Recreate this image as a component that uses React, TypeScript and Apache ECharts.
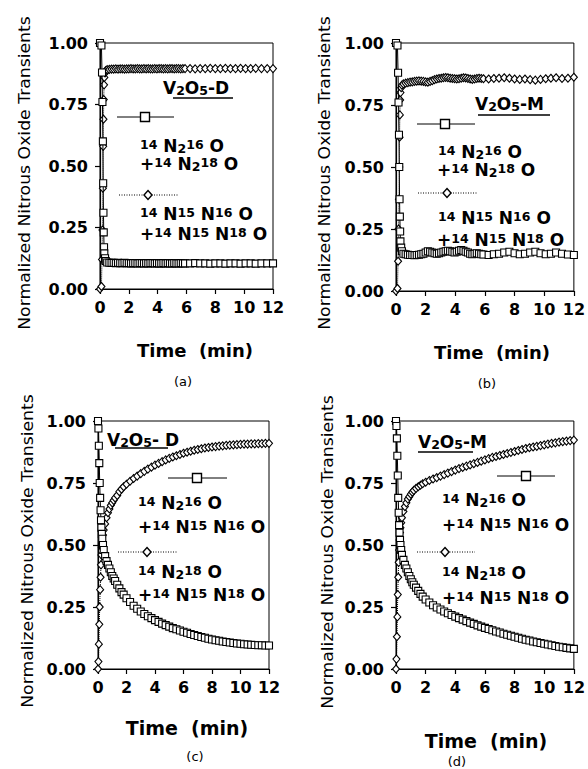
import React, { useEffect, useRef } from "react";
import * as echarts from "echarts";

// ---- data ----
const T_AB = [
  0, 0.1, 0.14, 0.17, 0.2, 0.22, 0.24, 0.26, 0.28, 0.3,
  0.35, 0.4, 0.5, 0.65, 0.8, 0.95, 1.1, 1.25, 1.4, 1.55,
  1.7, 1.85, 2.0, 2.15, 2.3, 2.45, 2.6, 2.75, 2.9, 3.05,
  3.2, 3.35, 3.5, 3.65, 3.8, 3.95, 4.1, 4.25, 4.4, 4.55,
  4.7, 4.85, 5.0, 5.15, 5.3, 5.45, 5.6, 5.75, 5.9, 6.25,
  6.6, 6.95, 7.3, 7.65, 8.0, 8.35, 8.7, 9.05, 9.4, 9.75,
  10.1, 10.45, 10.8, 11.2, 11.6, 12.0,
];
const A_SQ = [
  1.0, 0.99, 0.88, 0.76, 0.6, 0.43, 0.31, 0.23, 0.17, 0.145,
  0.125, 0.114, 0.108, 0.107, 0.106, 0.106, 0.105, 0.106, 0.105, 0.105,
  0.106, 0.105, 0.105, 0.104, 0.105, 0.105, 0.104, 0.105, 0.105, 0.104,
  0.105, 0.104, 0.105, 0.105, 0.104, 0.105, 0.104, 0.104, 0.105, 0.104,
  0.105, 0.104, 0.104, 0.105, 0.104, 0.104, 0.105, 0.104, 0.104, 0.104,
  0.105, 0.104, 0.104, 0.103, 0.104, 0.104, 0.103, 0.104, 0.104, 0.103,
  0.104, 0.104, 0.103, 0.104, 0.104, 0.104,
];
const A_DIA = [
  0.0, 0.01, 0.12, 0.24, 0.41, 0.58, 0.69, 0.77, 0.83, 0.86,
  0.878, 0.888, 0.892, 0.893, 0.894, 0.894, 0.895, 0.894, 0.895, 0.895,
  0.894, 0.895, 0.895, 0.896, 0.895, 0.895, 0.896, 0.895, 0.895, 0.896,
  0.895, 0.896, 0.895, 0.895, 0.896, 0.895, 0.896, 0.896, 0.895, 0.896,
  0.895, 0.896, 0.896, 0.895, 0.896, 0.896, 0.895, 0.896, 0.896, 0.896,
  0.895, 0.896, 0.896, 0.897, 0.896, 0.896, 0.897, 0.896, 0.896, 0.897,
  0.896, 0.896, 0.897, 0.896, 0.896, 0.896,
];
const B_SQ = [
  1.0, 0.99, 0.88, 0.76, 0.63, 0.5, 0.37, 0.3, 0.24, 0.2,
  0.175, 0.16, 0.15, 0.148, 0.146, 0.145, 0.145, 0.144, 0.145, 0.146,
  0.148, 0.15, 0.155, 0.16, 0.158, 0.155, 0.152, 0.15, 0.152, 0.155,
  0.158, 0.16, 0.162, 0.16, 0.158, 0.155, 0.158, 0.162, 0.165, 0.162,
  0.158, 0.155, 0.15, 0.148, 0.15, 0.152, 0.15, 0.148, 0.147, 0.145,
  0.148, 0.15, 0.155, 0.158, 0.152, 0.148, 0.15, 0.155, 0.158, 0.152,
  0.148, 0.15, 0.155, 0.15, 0.147, 0.145,
];
const B_DIA = [
  0.0, 0.01, 0.12, 0.25, 0.37, 0.5, 0.62, 0.71, 0.77, 0.8,
  0.82, 0.83, 0.835, 0.838, 0.84, 0.842, 0.843, 0.845, 0.846, 0.847,
  0.846, 0.845, 0.843, 0.842, 0.845, 0.848, 0.852, 0.855, 0.857, 0.858,
  0.86, 0.861, 0.86, 0.858, 0.857, 0.856, 0.855, 0.856, 0.858, 0.86,
  0.859, 0.857, 0.855, 0.853, 0.855, 0.857, 0.858, 0.857, 0.856, 0.855,
  0.857, 0.858, 0.86, 0.858, 0.855, 0.853, 0.855, 0.852, 0.85, 0.853,
  0.856, 0.858, 0.86, 0.857, 0.858, 0.862,
];
const T_CD = [
  0, 0.03, 0.06, 0.09, 0.12, 0.15, 0.18, 0.21, 0.24, 0.27,
  0.3, 0.35, 0.4, 0.5, 0.6, 0.7, 0.8, 0.9, 1.0, 1.1,
  1.2, 1.35, 1.5, 1.65, 1.8, 2.0, 2.25, 2.5, 2.75, 3.0,
  3.25, 3.5, 3.75, 4.0, 4.25, 4.5, 4.75, 5.0, 5.25, 5.5,
  5.75, 6.0, 6.25, 6.5, 6.75, 7.0, 7.25, 7.5, 7.75, 8.0,
  8.25, 8.5, 8.75, 9.0, 9.25, 9.5, 9.75, 10.0, 10.25, 10.5,
  10.75, 11.0, 11.25, 11.5, 11.75, 12.0,
];
const C_SQ = [
  1.0, 0.97, 0.9, 0.83, 0.75, 0.69, 0.64, 0.6, 0.57, 0.545,
  0.525, 0.5, 0.48, 0.455, 0.435, 0.42, 0.405, 0.39, 0.375, 0.365,
  0.355, 0.34, 0.325, 0.31, 0.3, 0.285, 0.27, 0.255, 0.243, 0.232,
  0.222, 0.213, 0.205, 0.197, 0.19, 0.183, 0.177, 0.171, 0.165, 0.16,
  0.155, 0.15, 0.146, 0.141, 0.137, 0.133, 0.129, 0.126, 0.122, 0.119,
  0.116, 0.114, 0.111, 0.109, 0.107, 0.105, 0.103, 0.102, 0.1, 0.099,
  0.098, 0.097, 0.096, 0.096, 0.095, 0.095,
];
const C_DIA = [
  0.0, 0.03, 0.1, 0.18, 0.25, 0.32, 0.37, 0.42, 0.46, 0.49,
  0.51, 0.54, 0.56, 0.585, 0.61, 0.63, 0.645, 0.66, 0.67, 0.68,
  0.69, 0.7, 0.715, 0.725, 0.735, 0.745, 0.757, 0.768, 0.778, 0.788,
  0.797, 0.806, 0.814, 0.822, 0.829, 0.836, 0.843, 0.849, 0.855, 0.86,
  0.865, 0.87, 0.874, 0.878, 0.882, 0.885, 0.888, 0.891, 0.893, 0.895,
  0.897, 0.899, 0.9, 0.902, 0.903, 0.904, 0.905, 0.906, 0.907, 0.907,
  0.908, 0.908, 0.909, 0.909, 0.91, 0.91,
];
const D_SQ = [
  1.0, 0.98, 0.93, 0.86, 0.78, 0.69, 0.63, 0.58, 0.55, 0.52,
  0.5, 0.48, 0.46, 0.44, 0.42, 0.405, 0.39, 0.375, 0.362, 0.35,
  0.34, 0.328, 0.315, 0.303, 0.292, 0.28, 0.268, 0.257, 0.248, 0.24,
  0.232, 0.225, 0.218, 0.211, 0.205, 0.199, 0.193, 0.187, 0.182, 0.176,
  0.171, 0.166, 0.161, 0.156, 0.151, 0.147, 0.142, 0.138, 0.134, 0.13,
  0.126, 0.122, 0.118, 0.115, 0.111, 0.108, 0.105, 0.102, 0.099, 0.096,
  0.093, 0.09, 0.088, 0.085, 0.083, 0.081,
];
const D_DIA = [
  0.0, 0.04, 0.13, 0.21, 0.3, 0.37, 0.43, 0.48, 0.52, 0.55,
  0.57, 0.59, 0.61, 0.635, 0.655, 0.67, 0.685, 0.695, 0.705, 0.713,
  0.72, 0.728, 0.735, 0.741, 0.747, 0.753, 0.76, 0.766, 0.772, 0.778,
  0.784, 0.79, 0.796, 0.802, 0.808, 0.813, 0.818, 0.823, 0.828, 0.833,
  0.838, 0.843, 0.848, 0.853, 0.857, 0.861, 0.865, 0.869, 0.873, 0.877,
  0.881, 0.885, 0.889, 0.892, 0.895, 0.898, 0.901, 0.904, 0.907, 0.91,
  0.912, 0.915, 0.917, 0.919, 0.921, 0.923,
];

const X_TICKS = [0, 2, 4, 6, 8, 10, 12];
const Y_TICKS = [0, 0.25, 0.5, 0.75, 1.0];

const Y_TITLE = "Normalized Nitrous Oxide Transients";
const X_TITLE = "Time  (min)";
const PANEL_TAGS = ["(a)", "(b)", "(c)", "(d)"];
const CATALYSTS = ["{m|V}{d|2}{m|O}{d|5}{m|-D}", "{m|V}{d|2}{m|O}{d|5}{m|-M}", "{m|V}{d|2}{m|O}{d|5}{m|- D}", "{m|V}{d|2}{m|O}{d|5}{m|-M}"];
const LEG_AB = [
  "{s|14}{m| N}{d|2}{s|16}{m| O}",
  "{m|+}{s|14}{m| N}{d|2}{s|18}{m| O}",
  "{s|14}{m| N}{s|15}{m| N}{s|16}{m| O}",
  "{m|+}{s|14}{m| N}{s|15}{m| N}{s|18}{m| O}",
];
const LEG_CD = [
  "{s|14}{m| N}{d|2}{s|16}{m| O}",
  "{m|+}{s|14}{m| N}{s|15}{m| N}{s|16}{m| O}",
  "{s|14}{m| N}{d|2}{s|18}{m| O}",
  "{m|+}{s|14}{m| N}{s|15}{m| N}{s|18}{m| O}",
];

const FONT = "DejaVu Sans";

const pair = (t: number[], y: number[]) => y.map((v, i) => [t[i], v]);

const RICH = {
  m: { fontSize: 17, fontWeight: "bold", fontFamily: FONT, lineHeight: 17, verticalAlign: "middle", fill: "#000" },
  s: { fontSize: 12.5, fontWeight: "bold", fontFamily: FONT, lineHeight: 12, verticalAlign: "top", fill: "#000" },
  d: { fontSize: 12.5, fontWeight: "bold", fontFamily: FONT, lineHeight: 13, verticalAlign: "bottom", fill: "#000" },
};

type Layout = {
  grid: { left: number; top: number; width: number; height: number };
  yTitle: [number, number];
  xTitle: [number, number, number];
  tag: [number, number];
  cat: [number, number];
  underline: [number, number, number];
  sqLine: [number, number, number, number];
  diaLine: [number, number, number, number];
  texts: [number, number][];
};

const LAYOUTS: Layout[] = [
  {
    grid: { left: 100, top: 43, width: 173, height: 246 },
    yTitle: [25, 173], xTitle: [195, 350, 18], tag: [183, 381],
    cat: [163, 88], underline: [173, 233, 98],
    sqLine: [117, 174, 117, 145], diaLine: [119, 178, 195, 148],
    texts: [[140, 146], [140, 164], [140, 214], [140, 234]],
  },
  {
    grid: { left: 396, top: 43, width: 179, height: 248 },
    yTitle: [325, 173], xTitle: [492, 352, 18], tag: [487, 383],
    cat: [475, 104], underline: [478, 550, 115],
    sqLine: [417, 475, 124, 445], diaLine: [418, 477, 193, 447],
    texts: [[438, 152], [437, 170], [438, 218], [437, 240]],
  },
  {
    grid: { left: 98, top: 421, width: 171, height: 248 },
    yTitle: [28, 551], xTitle: [187, 728, 19], tag: [195, 756],
    cat: [107, 440], underline: [115, 168, 448],
    sqLine: [168, 227, 478, 197], diaLine: [118, 177, 552, 147],
    texts: [[138, 503], [138, 527], [138, 572], [138, 595]],
  },
  {
    grid: { left: 396, top: 421, width: 179, height: 248 },
    yTitle: [328, 552], xTitle: [486, 741, 19], tag: [457, 761],
    cat: [418, 442], underline: [418, 473, 452],
    sqLine: [497, 555, 476, 526], diaLine: [417, 475, 552, 445],
    texts: [[442, 500], [442, 525], [442, 573], [442, 598]],
  },
];

const SERIES_DATA = [
  { t: T_AB, sq: A_SQ, dia: A_DIA, leg: LEG_AB },
  { t: T_AB, sq: B_SQ, dia: B_DIA, leg: LEG_AB },
  { t: T_CD, sq: C_SQ, dia: C_DIA, leg: LEG_CD },
  { t: T_CD, sq: D_SQ, dia: D_DIA, leg: LEG_CD },
];

function panelGraphics(L: Layout, i: number, leg: string[]) {
  const els: any[] = [];
  els.push({
    type: "text", x: L.yTitle[0], y: L.yTitle[1], rotation: Math.PI / 2, scaleX: 1.15,
    style: { text: Y_TITLE, fontFamily: FONT, fontSize: 15, fill: "#000", align: "center", verticalAlign: "middle" },
  });
  els.push({
    type: "text", x: L.xTitle[0], y: L.xTitle[1],
    style: { text: X_TITLE, fontFamily: FONT, fontSize: L.xTitle[2], fontWeight: "bold", fill: "#000", align: "center", verticalAlign: "middle" },
  });
  els.push({
    type: "text", x: L.tag[0], y: L.tag[1],
    style: { text: PANEL_TAGS[i], fontFamily: FONT, fontSize: 13, fill: "#000", align: "center", verticalAlign: "middle" },
  });
  els.push({
    type: "text", x: L.cat[0], y: L.cat[1], z: 20,
    style: { text: CATALYSTS[i], rich: RICH, fontFamily: FONT, fontSize: 17, lineHeight: 17, fontWeight: "bold", fill: "#000", align: "left", verticalAlign: "middle" },
  });
  els.push({
    type: "line", z: 20,
    shape: { x1: L.underline[0], y1: L.underline[2], x2: L.underline[1], y2: L.underline[2] },
    style: { stroke: "#000", lineWidth: 1.5 },
  });
  const [sx1, sx2, sy, sc] = L.sqLine;
  els.push({ type: "line", z: 20, shape: { x1: sx1, y1: sy, x2: sx2, y2: sy }, style: { stroke: "#000", lineWidth: 1 } });
  els.push({ type: "rect", z: 21, shape: { x: sc - 4.5, y: sy - 4.5, width: 9, height: 9 }, style: { fill: "#fff", stroke: "#000", lineWidth: 1.4 } });
  const [dx1, dx2, dy, dc] = L.diaLine;
  els.push({ type: "line", z: 20, shape: { x1: dx1, y1: dy, x2: dx2, y2: dy }, style: { stroke: "#000", lineWidth: 1, lineDash: [1, 1.5] } });
  els.push({
    type: "polygon", z: 21,
    shape: { points: [[dc, dy - 4.5], [dc + 4, dy], [dc, dy + 4.5], [dc - 4, dy]] },
    style: { fill: "#fff", stroke: "#000", lineWidth: 1.4 },
  });
  L.texts.forEach((p, k) => {
    els.push({
      type: "text", x: p[0], y: p[1], z: 20,
      style: { text: leg[k], rich: RICH, fontFamily: FONT, fontSize: 17, lineHeight: 17, fontWeight: "bold", fill: "#000", align: "left", verticalAlign: "middle" },
    });
  });
  return els;
}

export default function App() {
  const ref = useRef<HTMLDivElement>(null);
  useEffect(() => {
    if (!ref.current) return;
    const chart = echarts.init(ref.current, null, { renderer: "svg" });
    const grids: any[] = [];
    const xAxes: any[] = [];
    const yAxes: any[] = [];
    const series: any[] = [];
    let graphics: any[] = [];
    LAYOUTS.forEach((L, i) => {
      const D = SERIES_DATA[i];
      grids.push({ ...L.grid, show: true, borderColor: "#000", borderWidth: 1, backgroundColor: "transparent" });
      xAxes.push({
        type: "value", gridIndex: i, min: X_TICKS[0], max: X_TICKS[X_TICKS.length - 1], interval: 2,
        axisLine: { show: true, onZero: false, lineStyle: { color: "#000", width: 1.2 } },
        axisTick: { show: true, inside: false, length: 5, lineStyle: { color: "#000", width: 1.2 } },
        axisLabel: { color: "#000", fontFamily: FONT, fontWeight: "bold", fontSize: 16, margin: 10, showMinLabel: true, showMaxLabel: true },
        splitLine: { show: false },
      });
      yAxes.push({
        type: "value", gridIndex: i, min: Y_TICKS[0], max: Y_TICKS[Y_TICKS.length - 1], interval: 0.25,
        axisLine: { show: true, onZero: false, lineStyle: { color: "#000", width: 1.2 } },
        axisTick: { show: true, inside: false, length: 5, lineStyle: { color: "#000", width: 1.2 } },
        axisLabel: { color: "#000", fontFamily: FONT, fontWeight: "bold", fontSize: 16, margin: 12, formatter: (v: number) => v.toFixed(2) },
        splitLine: { show: false },
      });
      series.push({
        type: "line", name: "dia" + i, xAxisIndex: i, yAxisIndex: i, data: pair(D.t, D.dia),
        symbol: "diamond", symbolSize: [7, 8], showAllSymbol: true, clip: false,
        lineStyle: { color: "#000", width: 1, type: "dotted" },
        itemStyle: { color: "#fff", borderColor: "#000", borderWidth: 1.1 }, z: 3,
      });
      series.push({
        type: "line", name: "sq" + i, xAxisIndex: i, yAxisIndex: i, data: pair(D.t, D.sq),
        symbol: "rect", symbolSize: 7, showAllSymbol: true, clip: false,
        lineStyle: { color: "#000", width: 1 },
        itemStyle: { color: "#fff", borderColor: "#000", borderWidth: 1.1 }, z: 4,
      });
      graphics = graphics.concat(panelGraphics(L, i, D.leg));
    });
    chart.setOption({
      animation: false,
      backgroundColor: "#fff",
      grid: grids,
      xAxis: xAxes,
      yAxis: yAxes,
      series,
      graphic: { elements: graphics },
    });
    return () => chart.dispose();
  }, []);
  return <div ref={ref} style={{ position: "absolute", left: 0, top: 0, width: 588, height: 769 }} />;
}
